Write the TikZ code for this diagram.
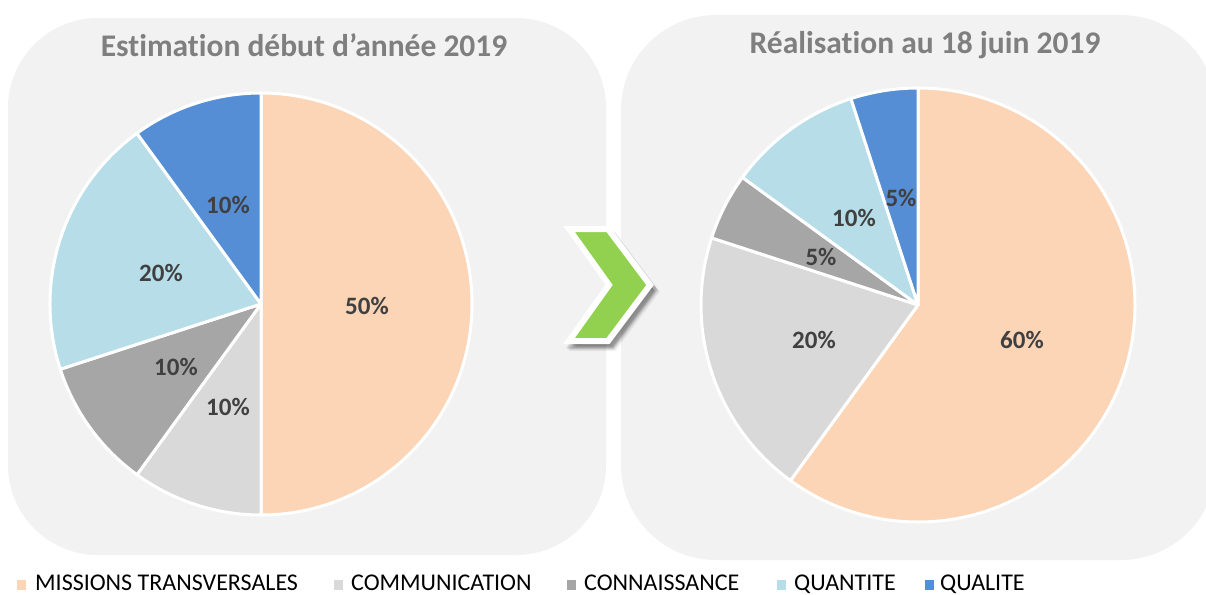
\documentclass[tikz,border=0pt]{standalone}
\usepackage{fontspec}
\setmainfont[Ligatures=NoCommon]{Carlito}
\definecolor{cmiss}{HTML}{FBD5B5}
\definecolor{ccomm}{HTML}{D9D9D9}
\definecolor{cconn}{HTML}{A6A6A6}
\definecolor{cquant}{HTML}{B7DEE8}
\definecolor{cqual}{HTML}{558ED5}
\definecolor{cpanel}{HTML}{F2F2F2}
\definecolor{ctitle}{HTML}{7F7F7F}
\definecolor{clabel}{HTML}{404040}
\definecolor{cgreen}{HTML}{92D050}
\tikzset{
  panelbox/.style={fill=cpanel},
  titletext/.style={text=ctitle, font=\bfseries\fontsize{31.5}{34}\selectfont, inner sep=0pt},
  slicestyle/.style={draw=white, line width=3pt, line join=round},
  pctlabel/.style={text=clabel, font=\bfseries\fontsize{25}{28}\selectfont, inner sep=0pt},
  legendtext/.style={text=black, font=\fontsize{24}{26}\selectfont, inner sep=0pt, anchor=base west},
}
\begin{document}
\begin{tikzpicture}[x=1pt,y=-1pt]
\useasboundingbox (0,0) rectangle (1206,594);
\fill[white] (0,0) rectangle (1206,594);
% panels
\fill[panelbox, rounded corners=90pt] (8,18) rectangle (606,555);
\fill[panelbox, rounded corners=95pt] (621,15) rectangle (1216,560);
% titles
\node[titletext] (t1) at (304,45) {Estimation début d’année 2019};
\node[titletext] (t2) at (925,45) {Réalisation au 18 juin 2019};
% left pie
\begin{scope}[shift={(261,304)}, yscale=-1]
\filldraw[slicestyle, fill=cmiss] (0,0) -- (90:211) arc[start angle=90, end angle=-90, radius=211] -- cycle;
\filldraw[slicestyle, fill=ccomm] (0,0) -- (-90:211) arc[start angle=-90, end angle=-126, radius=211] -- cycle;
\filldraw[slicestyle, fill=cconn] (0,0) -- (-126:211) arc[start angle=-126, end angle=-162, radius=211] -- cycle;
\filldraw[slicestyle, fill=cquant] (0,0) -- (-162:211) arc[start angle=-162, end angle=-234, radius=211] -- cycle;
\filldraw[slicestyle, fill=cqual] (0,0) -- (126:211) arc[start angle=126, end angle=90, radius=211] -- cycle;
\end{scope}
% right pie
\begin{scope}[shift={(918,305)}, yscale=-1]
\filldraw[slicestyle, fill=cmiss] (0,0) -- (90:217) arc[start angle=90, end angle=-126, radius=217] -- cycle;
\filldraw[slicestyle, fill=ccomm] (0,0) -- (-126:217) arc[start angle=-126, end angle=-198, radius=217] -- cycle;
\filldraw[slicestyle, fill=cconn] (0,0) -- (162:217) arc[start angle=162, end angle=144, radius=217] -- cycle;
\filldraw[slicestyle, fill=cquant] (0,0) -- (144:217) arc[start angle=144, end angle=108, radius=217] -- cycle;
\filldraw[slicestyle, fill=cqual] (0,0) -- (108:217) arc[start angle=108, end angle=90, radius=217] -- cycle;
\end{scope}
% left labels
\node[pctlabel] (l1) at (367,306) {50\%};
\node[pctlabel] (l2) at (228,407) {10\%};
\node[pctlabel] (l3) at (176,367) {10\%};
\node[pctlabel] (l4) at (161,273) {20\%};
\node[pctlabel] (l5) at (228,205) {10\%};
% right labels
\node[pctlabel] (r1) at (1022,340) {60\%};
\node[pctlabel] (r2) at (814,340) {20\%};
\node[pctlabel] (r3) at (821,257) {5\%};
\node[pctlabel] (r4) at (854,218) {10\%};
\node[pctlabel] (r5) at (901,198) {5\%};
% chevron
\foreach \o/\op in {7/0.05,6/0.07,5/0.09,4/0.11} {
  \filldraw[black, opacity=\op, line width=6pt, line join=miter, shift={(\o-1,\o)}]
    (569,229) -- (608,229) -- (650,285) -- (608,341) -- (569,341) -- (609,285) -- cycle;
}
\filldraw[fill=cgreen, draw=white, line width=6pt, line join=miter]
  (569,229) -- (608,229) -- (650,285) -- (608,341) -- (569,341) -- (609,285) -- cycle;
% legend
\fill[cmiss] (17,580) rectangle (26,590);
\node[legendtext] (g1) at (35,590) {MISSIONS TRANSVERSALES};
\fill[ccomm] (334,580) rectangle (343,590);
\node[legendtext] (g2) at (351,590) {COMMUNICATION};
\fill[cconn] (567,580) rectangle (576,590);
\node[legendtext] (g3) at (584,590) {CONNAISSANCE};
\fill[cquant] (777,580) rectangle (786,590);
\node[legendtext] (g4) at (794,590) {QUANTITE};
\fill[cqual] (925,580) rectangle (934,590);
\node[legendtext] (g5) at (940,590) {QUALITE};
\end{tikzpicture}
\end{document}
